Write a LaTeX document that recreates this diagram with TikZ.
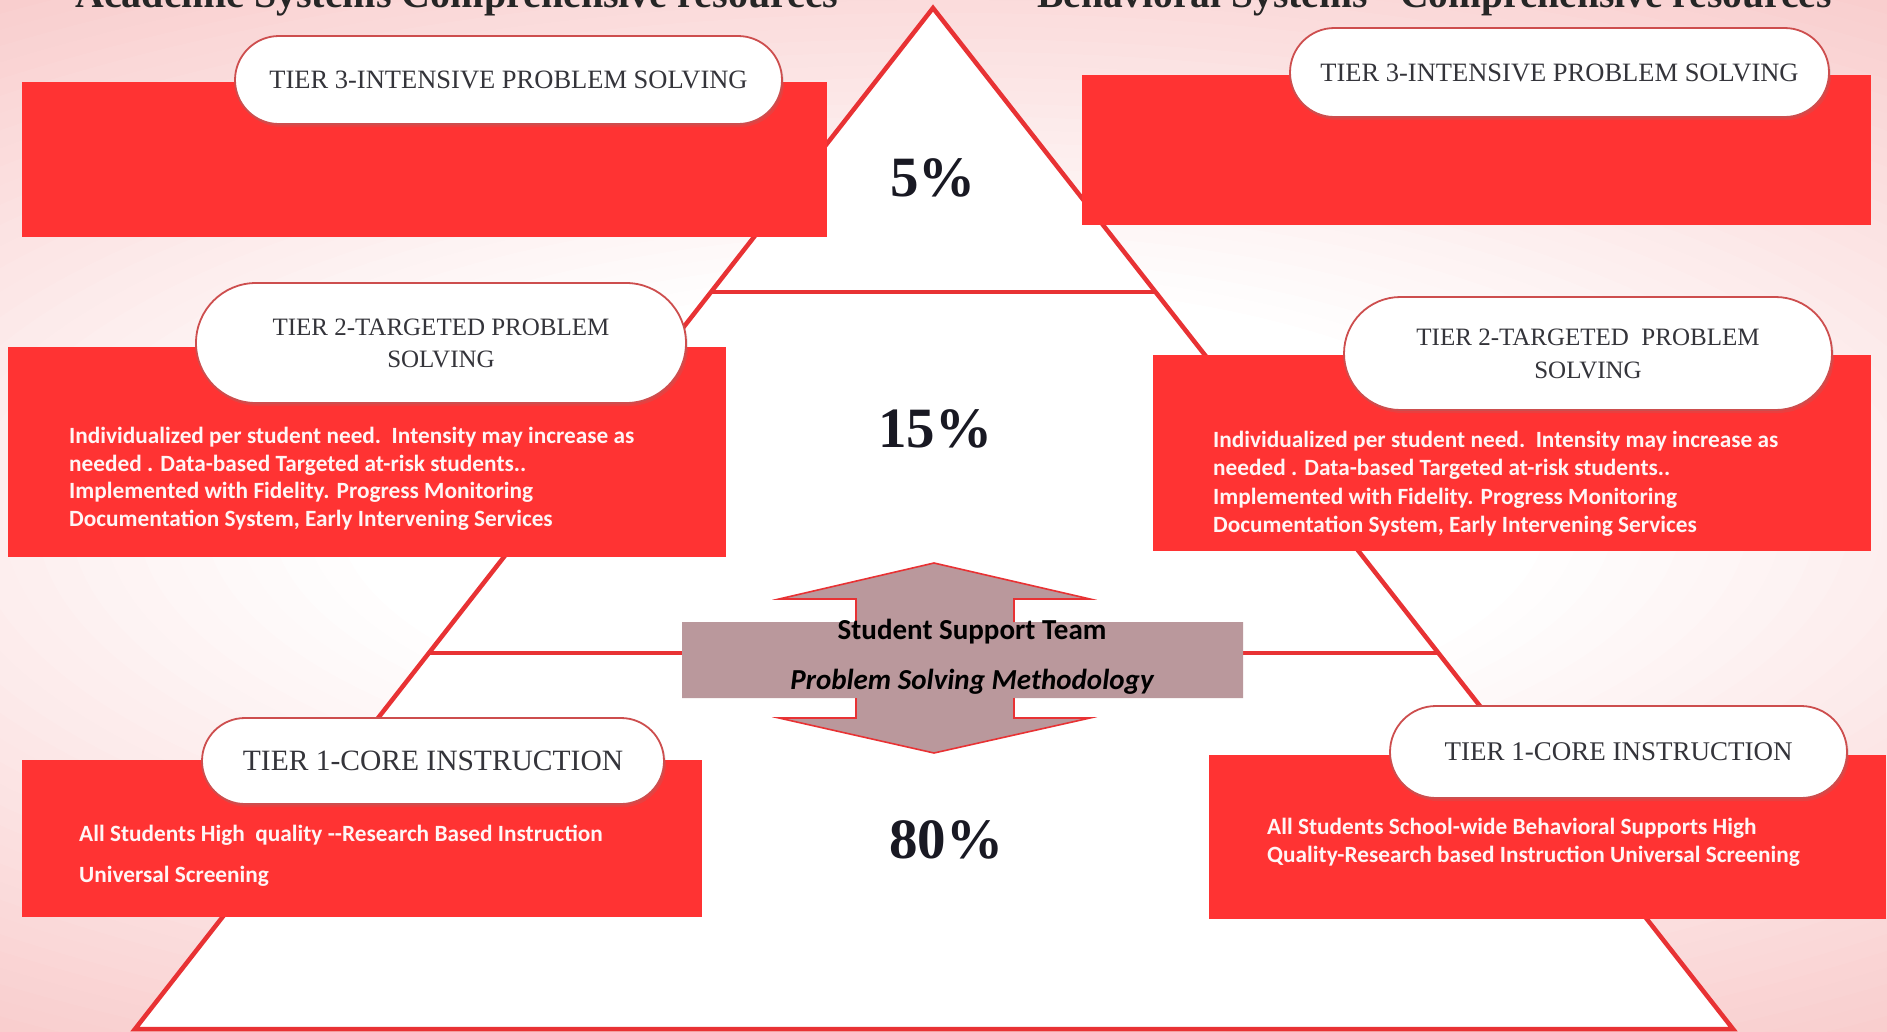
\documentclass[tikz,border=0pt]{standalone}
\usepackage{fontspec}
\setmainfont{Liberation Serif}
\newfontfamily\calib{Carlito}
\usetikzlibrary{calc,shapes.misc,shadows}

\definecolor{boxred}{RGB}{255,51,51}
\definecolor{edgered}{RGB}{232,50,52}
\definecolor{pillrim}{RGB}{205,78,78}
\definecolor{pilltext}{RGB}{52,52,58}
\definecolor{calloutgrey}{RGB}{186,152,156}
\definecolor{bgdeeper}{RGB}{247,192,192}
\definecolor{pcttext}{RGB}{25,25,35}
\definecolor{bodywhite}{RGB}{255,245,245}

\tikzset{
  redbox/.style={rectangle, fill=boxred, draw=none, inner sep=0pt, anchor=north west},
  pill/.style={rounded rectangle, fill=white, draw=pillrim, line width=1.8pt, inner sep=0pt,
    text=pilltext, align=center,
    drop shadow={opacity=0.18, shadow xshift=2pt, shadow yshift=-3pt}},
  bodytext/.style={anchor=north west, inner sep=0pt, align=left, text=bodywhite},
  pct/.style={anchor=base, inner sep=0pt, text=pcttext, font=\fontsize{57}{60}\selectfont\bfseries},
  header/.style={anchor=base west, inner sep=0pt, text=black!85, font=\fontsize{40}{48}\selectfont\bfseries},
  tierline/.style={draw=edgered, line width=4pt},
  arrowrim/.style={draw=edgered, line width=1.6pt, line join=miter},
  teamtext/.style={inner sep=0pt, text=black, font=\calib\fontsize{29}{34}\selectfont\bfseries}
}

\begin{document}
\begin{tikzpicture}[x=1pt,y=-1pt]
  \clip (0,0) rectangle (1887,1031);
  % page background: pink edges fading to a white centre (stepped elliptical gradient)
  \coordinate (mid) at (943,515);
  \foreach \k [evaluate=\k as \r using 1.45-0.025*\k,
               evaluate=\k as \p using 100-2.5*\k] in {0,...,40}
    \fill[bgdeeper!\p!white] (mid) ellipse [x radius=\r*1343, y radius=\r*515];

  % column headings (top edge of page)
  \node[header] (headL) at (75,7) {Academic Systems Comprehensive resources};
  \node[header, font=\fontsize{39.5}{48}\selectfont\bfseries] (headR) at (1037,7) {Behavioral Systems - Comprehensive resources};

  % pyramid
  \coordinate (apex) at (933,8);
  \coordinate (bl) at (135,1029);
  \coordinate (br) at (1733,1029);
  \draw[edgered, line width=4.5pt, fill=white, line join=miter] (apex) -- (br) -- (bl) -- cycle;
  \coordinate (u1) at ($(apex)!0.278!(bl)$);
  \coordinate (u2) at ($(apex)!0.278!(br)$);
  \coordinate (l1) at ($(apex)!0.632!(bl)$);
  \coordinate (l2) at ($(apex)!0.632!(br)$);
  \draw[tierline] (u1) -- (u2);
  \draw[tierline] (l1) -- (l2);

  % percentages
  \node[pct] (p5) at (933,196) {5\%};
  \node[pct] (p15) at (935,447) {15\%};
  \node[pct] (p80) at (946,858) {80\%};

  % ---- Tier 3 ----
  \node[redbox, minimum width=805pt, minimum height=155pt] (t3L) at (22,82) {};
  \node[redbox, minimum width=789pt, minimum height=150pt] (t3R) at (1082,75) {};
  \node[pill, minimum width=547pt, minimum height=88pt, font=\fontsize{26.5}{30}\selectfont] (t3Lp) at (508.5,80) {TIER 3-INTENSIVE PROBLEM SOLVING};
  \node[pill, minimum width=539pt, minimum height=89pt, font=\fontsize{26.5}{30}\selectfont] (t3Rp) at (1559.5,72.5) {TIER 3-INTENSIVE PROBLEM SOLVING};

  % ---- Tier 2 ----
  \node[redbox, minimum width=718pt, minimum height=210pt] (t2L) at (8,347) {};
  \node[redbox, minimum width=718pt, minimum height=196pt] (t2R) at (1153,355) {};
  \node[pill, minimum width=490pt, minimum height=120pt, font=\fontsize{25}{32}\selectfont] (t2Lp) at (441,343) {TIER 2-TARGETED PROBLEM\\SOLVING};
  \node[pill, minimum width=488pt, minimum height=113pt, font=\fontsize{25}{33}\selectfont] (t2Rp) at (1588,353.5) {TIER 2-TARGETED\ \ PROBLEM\\SOLVING};
  \node[bodytext, font=\calib\fontsize{23.3}{27.7}\selectfont\bfseries] (t2Lt) at (69,427)
    {Individualized per student need.\ \ Intensity may increase as\\
     needed . Data-based Targeted at-risk students..\\
     Implemented with Fidelity. Progress Monitoring\\
     Documentation System, Early Intervening Services};
  \node[bodytext, font=\calib\fontsize{23.3}{28.3}\selectfont\bfseries] (t2Rt) at (1213,431)
    {Individualized per student need.\ \ Intensity may increase as\\
     needed . Data-based Targeted at-risk students..\\
     Implemented with Fidelity. Progress Monitoring\\
     Documentation System, Early Intervening Services};

  % ---- Tier 1 ----
  \node[redbox, minimum width=680pt, minimum height=157pt] (t1L) at (22,760) {};
  \node[redbox, minimum width=677pt, minimum height=164pt] (t1R) at (1209,755) {};
  \node[pill, minimum width=462pt, minimum height=86pt, font=\fontsize{29.5}{32}\selectfont] (t1Lp) at (433,761) {TIER 1-CORE INSTRUCTION};
  \node[pill, minimum width=457pt, minimum height=92pt, font=\fontsize{27}{32}\selectfont] (t1Rp) at (1618.5,752) {TIER 1-CORE INSTRUCTION};
  \node[bodytext, font=\calib\fontsize{23.3}{41}\selectfont\bfseries] (t1Lt) at (79,825)
    {All Students High\ \ quality --Research Based Instruction\\
     Universal Screening};
  \node[bodytext, font=\calib\fontsize{23.3}{28}\selectfont\bfseries] (t1Rt) at (1267,818)
    {All Students School-wide Behavioral Supports High\\
     Quality-Research based Instruction Universal Screening};

  % ---- Student Support Team up/down arrow callout ----
  \fill[calloutgrey] (934,563) -- (1090,599) -- (1014,599) -- (1014,622) -- (1243,622)
    -- (1243,698) -- (1014,698) -- (1014,718) -- (1090,718) -- (934,753) -- (779,718)
    -- (856,718) -- (856,698) -- (682,698) -- (682,622) -- (856,622) -- (856,599)
    -- (779,599) -- cycle;
  \draw[arrowrim] (856,622) -- (856,599) -- (779,599) -- (934,563) -- (1090,599) -- (1014,599) -- (1014,622);
  \draw[arrowrim] (856,698) -- (856,718) -- (779,718) -- (934,753) -- (1090,718) -- (1014,718) -- (1014,698);
  \node[teamtext] (sst) at (972,632) {Student Support Team};
  \node[teamtext, font=\calib\fontsize{29}{34}\selectfont\bfseries\itshape] (psm) at (972,682) {Problem Solving Methodology};
\end{tikzpicture}
\end{document}
